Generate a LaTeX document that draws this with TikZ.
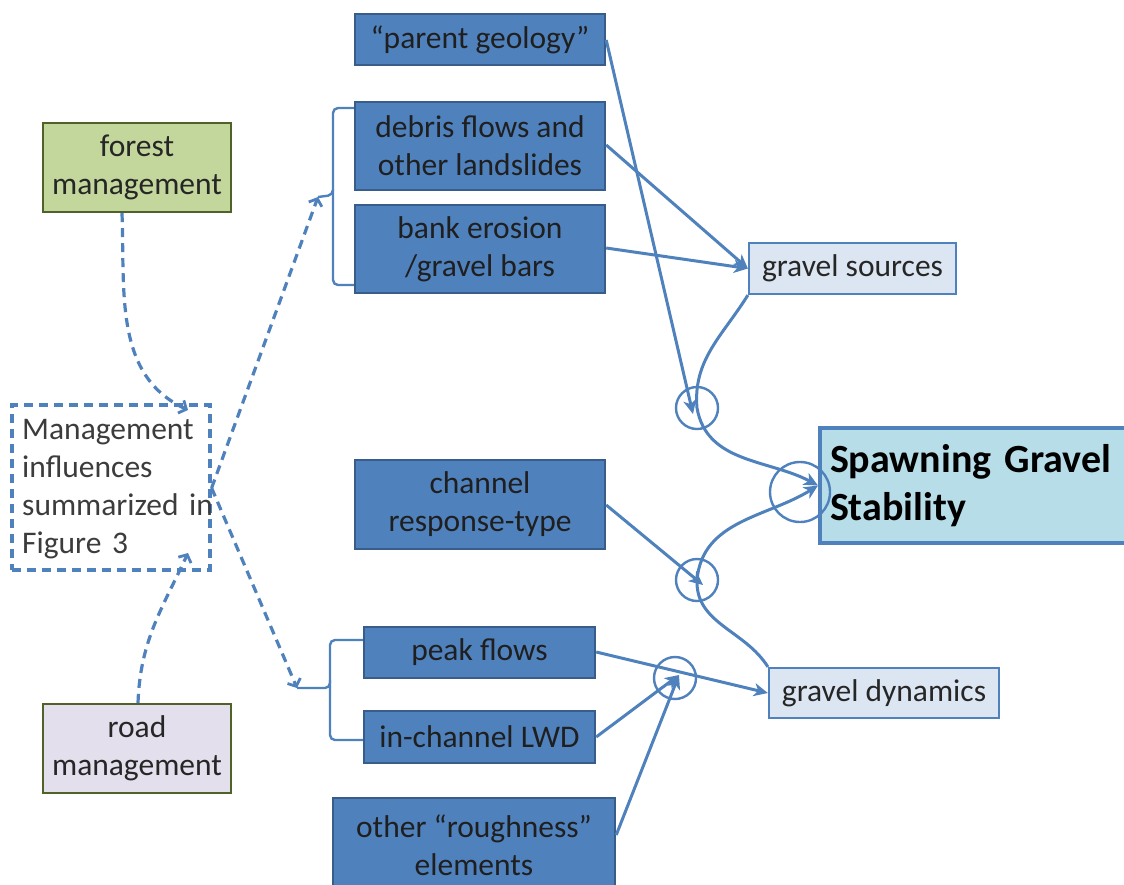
\documentclass[tikz,border=0pt]{standalone}
\usepackage{fontspec}
\setmainfont{Carlito}
\usetikzlibrary{arrows.meta}
\definecolor{accent}{HTML}{4F81BD}
\definecolor{darkedge}{HTML}{385D8A}
\definecolor{forestfill}{HTML}{C3D69B}
\definecolor{forestedge}{HTML}{4F6228}
\definecolor{roadfill}{HTML}{E4DFEC}
\definecolor{palefill}{HTML}{DCE6F2}
\definecolor{targetfill}{HTML}{B7DEE8}
\definecolor{labeltext}{HTML}{262626}
\tikzset{
  every node/.style={font=\fontsize{31.5}{38}\selectfont, inner sep=0pt, align=center},
  mgmt/.style={draw=forestedge, line width=2.4pt, minimum width=188pt, minimum height=89pt, text=labeltext},
  factor/.style={draw=darkedge, fill=accent, line width=2.4pt, text=black!88},
  result/.style={draw=accent, fill=palefill, line width=2.2pt, text=labeltext},
  joint/.style={draw=accent, line width=2.4pt, circle, minimum size=#1},
  link/.style={draw=accent, line width=3pt, -{Stealth[length=14pt,width=13pt,inset=4pt]}},
  influence/.style={draw=accent, line width=3.2pt, dash pattern=on 9pt off 6pt, -{Straight Barb[length=6pt,width=14pt,line width=2.8pt]}},
  brace/.style={draw=accent, line width=2.4pt, rounded corners=5pt}
}
\begin{document}
\begin{tikzpicture}[x=1pt, y=-1pt]
\useasboundingbox (0,0) rectangle (1124,884);

% management boxes on the left
\node[mgmt, fill=forestfill] (forest) at (137,167.5) {forest\\management};
\node[mgmt, fill=roadfill] (road) at (137,748.5) {road\\management};
\node[draw=accent, line width=3.2pt, dash pattern=on 9pt off 6pt, minimum width=198pt, minimum height=165pt] (summary) at (111,487.5) {};
\node[anchor=west, text width=200pt, align=left, text=labeltext!90] (summarytext) at (22,489)
      {Management\\influences\\summarized~in\\Figure~3};

% contributing factors
\node[factor, minimum width=250pt, minimum height=51pt] (geology) at (480,39.5) {“parent geology”};
\node[factor, minimum width=250pt, minimum height=88pt] (debris) at (480,146) {debris flows and\\other landslides};
\node[factor, minimum width=250pt, minimum height=88pt] (bank) at (480,249) {bank erosion\\/gravel bars};
\node[factor, minimum width=250pt, minimum height=89pt] (channel) at (480,504.5) {channel\\response-type};
\node[factor, minimum width=231pt, minimum height=51pt] (peak) at (479.5,652.5) {peak flows};
\node[factor, minimum width=231pt, minimum height=52pt] (lwd) at (479.5,737) {in-channel LWD};
\node[factor, minimum width=282pt, minimum height=94pt] (rough) at (474,845) {other “roughness”\\elements};

% intermediate results and the outcome
\node[result, minimum width=207pt, minimum height=51pt] (sources) at (852.5,268.5) {gravel sources};
\node[result, minimum width=230pt, minimum height=50pt] (dynamics) at (884,693) {gravel dynamics};
\node[draw=accent, fill=targetfill, line width=4pt, minimum width=310pt, minimum height=115pt,
      text width=290pt, align=left, font=\fontsize{40}{48}\selectfont\bfseries] (spawn) at (975,485.5)
      {Spawning~Gravel\\Stability};

% interaction circles
\node[joint=42pt] (j1) at (697,408) {};
\node[joint=60pt] (j2) at (800,492) {};
\node[joint=42pt] (j3) at (697,580) {};
\node[joint=42pt] (j4) at (675,678) {};

% braces grouping the factors
\coordinate (topTip) at (318,197);
\coordinate (botTip) at (297,688);
\draw[brace] (debris.west |- 0,108) -- (333,108) -- (333,285) -- (bank.west |- 0,285);
\draw[brace] (333,190) -- (333,195) -- (topTip);
\draw[brace] (peak.west |- 0,640) -- (330,640) -- (330,740) -- (lwd.west |- 0,740);
\draw[brace] (330,680) -- (330,688) -- (botTip);

% management influences (dashed)
\draw[influence] (forest.south -| 122,0) to[out=-88, in=155] (188,410);
\draw[influence] (road.north -| 138,0) to[out=88, in=-115] (188,553);
\draw[influence] (summary.east |- 0,488) -- (topTip);
\draw[influence] (summary.east |- 0,488) -- (botTip);

% process links
\draw[link] (geology.east |- 0,40) -- (693,414);
\draw[link] (debris.east |- 0,145) -- (sources.west);
\draw[link] (bank.east |- 0,248) -- (sources.west);
\draw[link] (sources.south west) to[out=238, in=95] (j1.center) to[out=-80, in=152] (spawn.west);
\draw[link] (channel.east |- 0,505) -- (703,585);
\draw[link] (dynamics.north west) to[out=122, in=-92] (j3.center) to[out=85, in=212] (spawn.west);
\draw[link] (peak.east |- 0,652) -- (dynamics.west);
\draw[link] (lwd.east |- 0,737) -- (679,675);
\draw[link] (rough.east |- 0,835) -- (679,675);
\end{tikzpicture}
\end{document}
